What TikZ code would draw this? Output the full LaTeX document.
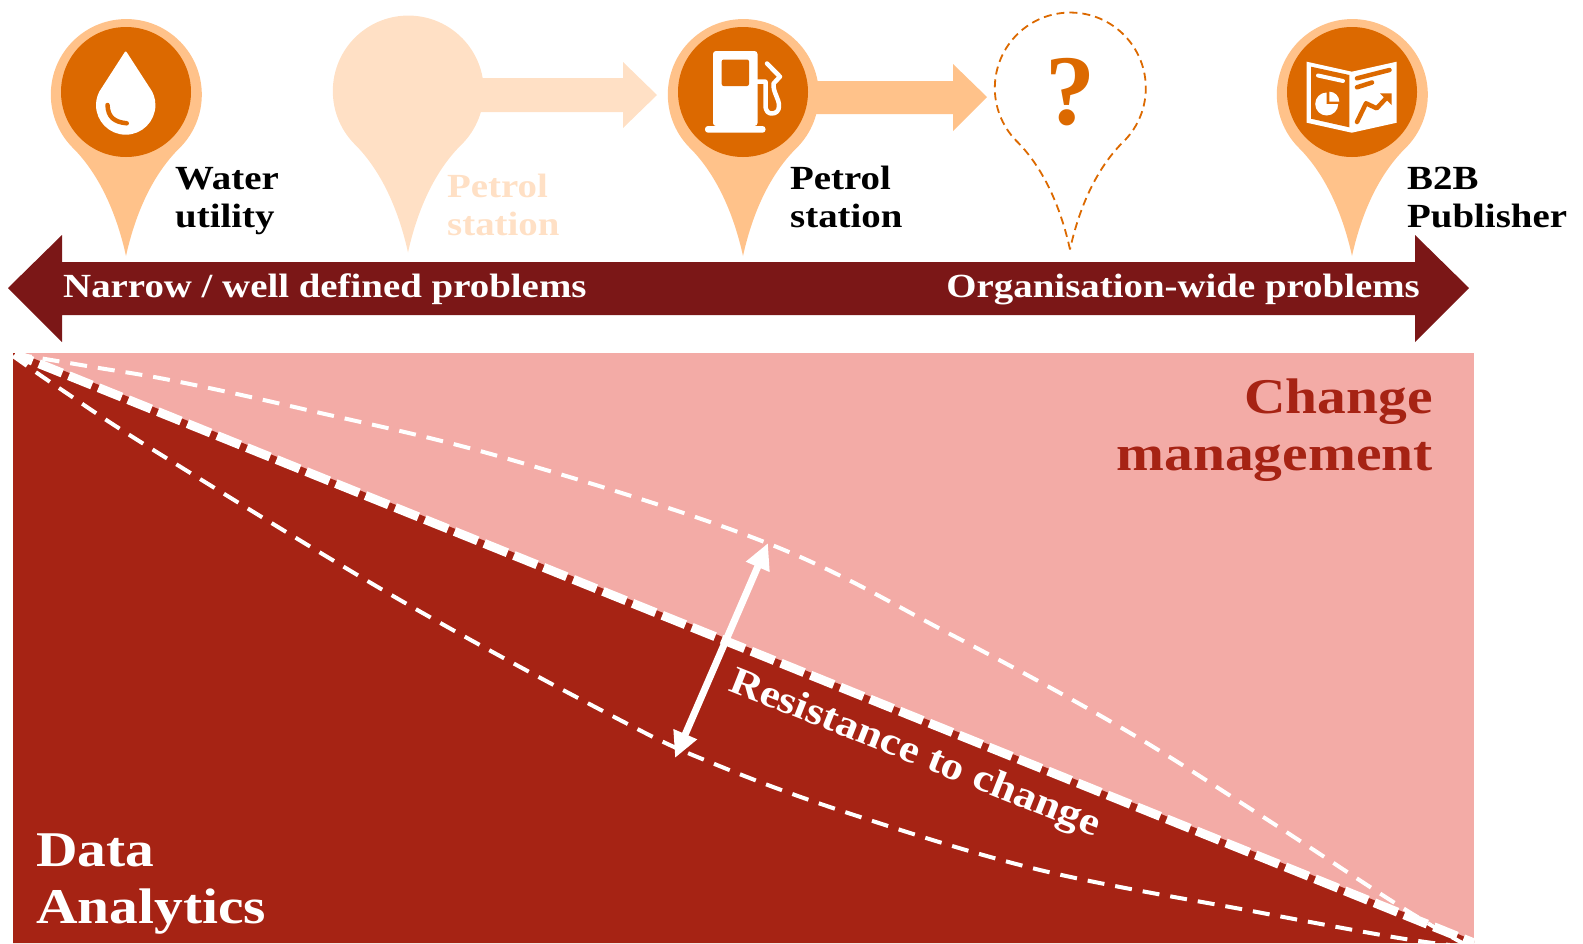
\documentclass[tikz,border=0pt]{standalone}
\usepackage{fontspec}
\setmainfont[FakeStretch=1.15]{Liberation Serif}
\newfontfamily\plainserif{Liberation Serif}
\usetikzlibrary{arrows.meta}
\definecolor{darkred}{HTML}{A62314}
\definecolor{barred}{HTML}{7B1717}
\definecolor{pinkbg}{HTML}{F3ABA6}
\definecolor{orangeic}{HTML}{DC6900}
\definecolor{peach}{HTML}{FFC28A}
\definecolor{peachfade}{HTML}{FFE0C5}
\tikzset{
	mappin/.pic={
		\path[pic actions] (0,161.5) .. controls (-8,125) and (-24,82) .. (-54,52.5)
			arc[start angle=136,end angle=404,radius=75.5]
			.. controls (24,82) and (8,125) .. cycle;
	},
	dot/.style={circle,fill=orangeic,minimum size=130pt,inner sep=0pt},
	tag/.style={anchor=base west,align=left,inner sep=0pt,font=\fontsize{33.8}{38}\selectfont\bfseries},
	bartext/.style={anchor=base west,inner sep=0pt,text=white,font=\fontsize{33.8}{36}\selectfont\bfseries},
	bigtext/.style={anchor=base west,align=left,inner sep=0pt,font=\fontsize{50}{57}\selectfont\bfseries},
	thindash/.style={white,line width=4pt,dash pattern=on 17pt off 11pt},
}
\begin{document}
\begin{tikzpicture}[x=1pt,y=-1pt]
	\useasboundingbox (0,0) rectangle (1583,943);
	% lower panel
	\fill[pinkbg] (13,353) rectangle (1474,943);
	\fill[darkred] (13,353) -- (20,353) -- (1474,940.5) -- (1474,943) -- (13,943) -- cycle;
	\begin{scope}
		\clip (13,353) rectangle (1474,943);
		\draw[thindash] plot[smooth,tension=0.6] coordinates {(15,354) (93,367) (175,381) (303,409) (505,458) (767,543) (950,634) (1120,727) (1257,813) (1398,905) (1466,945)};
		\draw[thindash] plot[smooth,tension=0.6] coordinates {(13,356) (62,390) (155,451) (400,600) (620,720) (717,765) (848,813) (1040,870) (1257,912) (1393,937) (1450,945)};
		\draw[white,line width=9pt,dash pattern=on 25pt off 7pt,dash phase=6pt] (15,354) -- (1474,943);
	\end{scope}
	\coordinate (restop) at (768,543);
	\coordinate (resbot) at (675,758);
	\draw[white,line width=7pt,{Triangle[length=26pt,width=24pt]}-{Triangle[length=26pt,width=24pt]}] (resbot) -- (restop);
	\node (restext) [anchor=base west,inner sep=0pt,text=white,rotate=-21.7,font=\fontsize{39}{40}\selectfont\bfseries] at (727,690) {Resistance to change};
	\node (change) [bigtext,align=right,anchor=base east,text=darkred] at (1433,470) {Change\\management};
	\node (data) [bigtext,text=white] at (36,923) {Data\\Analytics};
	% scale bar
	\fill[barred] (8,288) -- (62,235) -- (62,262) -- (1415,262) -- (1415,235) -- (1469,288) -- (1415,342) -- (1415,315) -- (62,315) -- (62,342) -- cycle;
	\node (narrow) [bartext] at (63,297) {Narrow / well defined problems};
	\node (orgwide) [bartext,anchor=base east] at (1420,297) {Organisation-wide problems};
	% block arrows
	\fill[peachfade] (470,78) -- (623,78) -- (623,62) -- (657,95) -- (623,128) -- (623,112) -- (470,112) -- cycle;
	\fill[peach] (800,81) -- (953,81) -- (953,64) -- (987,97) -- (953,131) -- (953,114) -- (800,114) -- cycle;
	% pins
	\pic (pinwater) [fill=peach] at (126,94.5) {mappin};
	\pic (pinfade) [fill=peachfade] at (408,91) {mappin};
	\pic (pinpetrol) [fill=peach] at (743,94.5) {mappin};
	\pic (pinnext) [draw=orangeic,line width=1.8pt,dash pattern=on 8pt off 5pt] at (1070,88) {mappin};
	\pic (pinpub) [fill=peach] at (1352,94.5) {mappin};
	\node (dotwater) [dot] at (126,92) {};
	\node (dotpetrol) [dot] at (743,92) {};
	\node (dotpub) [dot] at (1352,92) {};
	% droplet
	\filldraw[white,line width=2pt,line join=round] (125.7,52.5) -- (102.5,88.5) .. controls (99,93) and (97,99) .. (97,105) arc[start angle=180,end angle=0,radius=28.7] .. controls (154.4,99) and (152.5,93) .. (149,88.5) -- cycle;
	\draw[orangeic,line width=4.5pt,line cap=round] (107.5,105) .. controls (108,117) and (114,122) .. (126.7,123.3);
	% pump
	\fill[white,rounded corners=3pt] (713,126) -- (713,51) -- (757.5,51) -- (757.5,126) -- cycle;
	\fill[white,rounded corners=3pt] (705,126) rectangle (765.5,132.7);
	\fill[orangeic,rounded corners=2pt] (721.7,59.5) rectangle (749,86);
	\draw[white,line width=4.5pt,line join=round,line cap=round] (757,81.7) -- (765.5,81.7) -- (765.5,105) .. controls (765.5,112) and (769,113.5) .. (771.7,113.5) .. controls (776,113.5) and (779,111) .. (779,106) .. controls (779,98) and (773,93) .. (773.5,83.5) -- (780,76.7) -- (767,63.5);
	% publication
	\fill[white,line join=round] (1306.7,61.7) -- (1351.7,71.7) -- (1396.7,61.7) -- (1396.7,122.7) -- (1351.7,132.7) -- (1306.7,122.7) -- cycle;
	\fill[orangeic] (1311,66.7) -- (1349.3,75) -- (1349.3,127.3) -- (1311,118.7) -- cycle;
	\draw[white,line width=4pt,line cap=round] (1318,75.5) -- (1343,81);
	\fill[white] (1326.7,104) -- ++(11.5,0) arc[start angle=0,end angle=270,radius=11.5] -- cycle;
	\fill[white] (1329.3,101.7) -- ++(0,-10) arc[start angle=270,end angle=360,radius=10] -- cycle;
	\draw[orangeic,line width=4.5pt,line cap=round] (1357,78.3) -- (1389.5,70);
	\draw[orangeic,line width=4.5pt,line cap=round] (1357,87.3) -- (1372,82.5);
	\draw[orangeic,line width=4.5pt,line cap=round,line join=round] (1357,122) -- (1366,103.3) -- (1376.7,108.3) -- (1386,98.3);
	\fill[orangeic] (1380,93.3) -- (1391.7,93.3) -- (1391.7,105) -- cycle;
	% labels
	\node (qmark) [anchor=base,inner sep=0pt,text=orangeic,font=\plainserif\fontsize{100}{100}\selectfont\bfseries] at (1070,124) {?};
	\node (lwater) [tag] at (175,227) {Water\\utility};
	\node (lfade) [tag,text=peachfade] at (447,235) {Petrol\\station};
	\node (lpetrol) [tag] at (790,227) {Petrol\\station};
	\node (lpub) [tag] at (1407,227) {B2B\\Publisher};
\end{tikzpicture}
\end{document}
